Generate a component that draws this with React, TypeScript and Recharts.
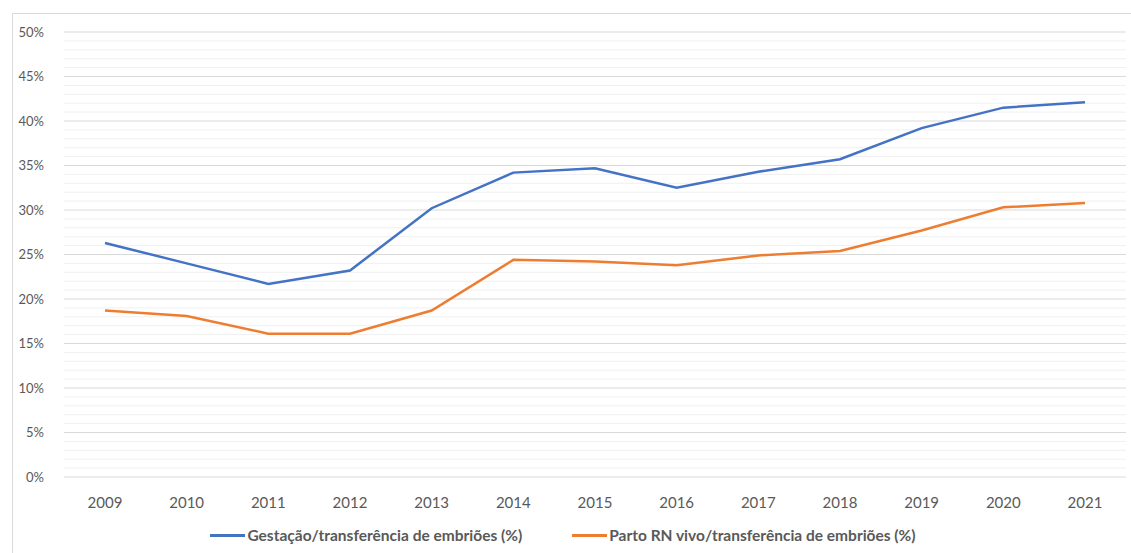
import { LineChart, Line, XAxis, YAxis, CartesianGrid, Legend, ReferenceLine } from "recharts";

const years = ["2009", "2010", "2011", "2012", "2013", "2014", "2015", "2016", "2017", "2018", "2019", "2020", "2021"];
const gestacao = [26.3, 24.0, 21.7, 23.2, 30.2, 34.2, 34.7, 32.5, 34.3, 35.7, 39.2, 41.5, 42.1];
const partoVivo = [18.7, 18.1, 16.1, 16.1, 18.7, 24.4, 24.2, 23.8, 24.9, 25.4, 27.7, 30.3, 30.8];
const yTicks = [0, 5, 10, 15, 20, 25, 30, 35, 40, 45, 50];
const minorTicks = Array.from({ length: 51 }, (_, i) => i).filter((v) => v % 5 !== 0);

const seriesNames = {
  gestacao: "Gestação/transferência de embriões (%)",
  parto: "Parto RN vivo/transferência de embriões (%)",
};

const data = years.map((year, i) => ({
  year,
  gestacao: gestacao[i],
  parto: partoVivo[i],
}));

const FONT = "Lato, 'Liberation Sans', sans-serif";

function LegendContent({ payload }: any) {
  return (
    <div
      style={{
        display: "flex",
        justifyContent: "center",
        alignItems: "center",
        height: 36,
        gap: 50,
        fontFamily: FONT,
        fontSize: 15.5,
        fontWeight: 700,
        color: "#595959",
      }}
    >
      {(payload || []).map((item: any) => (
        <div key={item.value} style={{ display: "flex", alignItems: "center" }}>
          <span style={{ display: "inline-block", width: 35, height: 3, background: item.color, marginRight: 2 }} />
          <span>{item.value}</span>
        </div>
      ))}
    </div>
  );
}

export default function App() {
  return (
    <div style={{ position: "absolute", left: 0, top: 0, width: 1131, height: 553, overflow: "hidden", background: "#fff" }}>
      <div
        style={{
          position: "absolute",
          left: 12,
          top: 13,
          width: 1140,
          height: 560,
          border: "1px solid #d9d9d9",
        }}
      />
      <div style={{ position: "absolute", left: 0, top: 0 }}>
        <LineChart width={1131} height={553} data={data} margin={{ top: 32, right: 5, bottom: 0, left: 0 }}>
          <CartesianGrid vertical={false} stroke="#d9d9d9" strokeWidth={1} />
          {minorTicks.map((t) => (
            <ReferenceLine key={t} y={t} stroke="#f0f0f0" strokeWidth={1} zIndex={-50} />
          ))}
          <XAxis
            dataKey="year"
            axisLine={false}
            tickLine={false}
            height={40}
            tickMargin={14}
            padding={{ left: 41, right: 41 }}
            tick={{ fill: "#595959", fontSize: 15, fontFamily: FONT }}
          />
          <YAxis
            width={64}
            domain={[0, 50]}
            ticks={yTicks}
            axisLine={false}
            tickLine={false}
            tickMargin={14}
            tickFormatter={(v: number) => `${v}%`}
            tick={{ fill: "#595959", fontSize: 13, fontFamily: FONT }}
          />
          <Legend verticalAlign="bottom" height={36} content={<LegendContent />} />
          <Line
            dataKey="gestacao"
            name={seriesNames.gestacao}
            stroke="#4472C4"
            strokeWidth={2.5}
            dot={false}
            isAnimationActive={false}
          />
          <Line
            dataKey="parto"
            name={seriesNames.parto}
            stroke="#ED7D31"
            strokeWidth={2.5}
            dot={false}
            isAnimationActive={false}
          />
        </LineChart>
      </div>
    </div>
  );
}
